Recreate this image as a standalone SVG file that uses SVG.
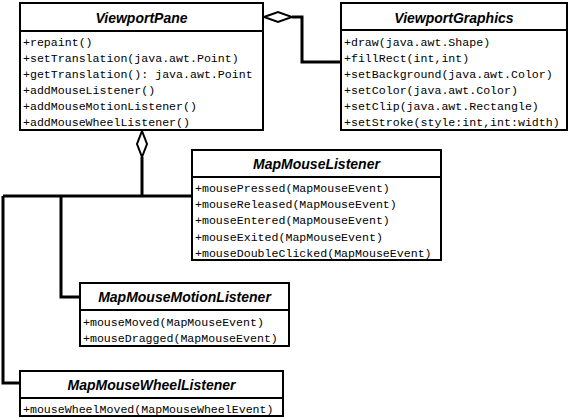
<svg xmlns="http://www.w3.org/2000/svg" width="571" height="418" viewBox="0 0 571 418">
<style>
.box{fill:#fff;stroke:#000;stroke-width:2}
.div{stroke:#000;stroke-width:2}
.hd{font-family:"Liberation Sans",Arial,sans-serif;font-weight:bold;font-style:italic;font-size:14px;text-anchor:middle;fill:#000}
.m{font-family:"Liberation Mono","Courier New",monospace;font-size:11.6px;fill:#000}
.ln{fill:none;stroke:#000;stroke-width:3}
.dia{fill:#fff;stroke:#000;stroke-width:2}
</style>
<rect width="571" height="418" fill="#fff"/>
<g id="connectors">
<polyline class="ln" points="292,17 302,17 302,62 341,62"/>
<polygon class="dia" points="264,17 278,12 292,17 278,22"/>
<polyline class="ln" points="142,157 142,196"/>
<polyline class="ln" points="3,196 192,196"/>
<polyline class="ln" points="3,196 3,383 20,383"/>
<polyline class="ln" points="61,196 61,297 80,297"/>
<polygon class="dia" points="142,131 147,144 142,157 137,144"/>
</g>
<g id="ViewportPane">
<rect class="box" x="20" y="3" width="243" height="127"/>
<line class="div" x1="20" y1="31" x2="263" y2="31"/>
<text class="hd" x="141.5" y="23">ViewportPane</text>
<text class="m" x="23" y="46">+repaint()</text>
<text class="m" x="23" y="62">+setTranslation(java.awt.Point)</text>
<text class="m" x="23" y="78">+getTranslation(): java.awt.Point</text>
<text class="m" x="23" y="94">+addMouseListener()</text>
<text class="m" x="23" y="110">+addMouseMotionListener()</text>
<text class="m" x="23" y="126">+addMouseWheelListener()</text>
</g>
<g id="ViewportGraphics">
<rect class="box" x="341" y="3" width="226" height="127"/>
<line class="div" x1="341" y1="30" x2="567" y2="30"/>
<text class="hd" x="454" y="23">ViewportGraphics</text>
<text class="m" x="344" y="46">+draw(java.awt.Shape)</text>
<text class="m" x="344" y="62">+fillRect(int,int)</text>
<text class="m" x="344" y="78">+setBackground(java.awt.Color)</text>
<text class="m" x="344" y="94">+setColor(java.awt.Color)</text>
<text class="m" x="344" y="110">+setClip(java.awt.Rectangle)</text>
<text class="m" x="344" y="126">+setStroke(style:int,int:width)</text>
</g>
<g id="MapMouseListener">
<rect class="box" x="192" y="150" width="249" height="110"/>
<line class="div" x1="192" y1="177" x2="441" y2="177"/>
<text class="hd" x="316.5" y="169">MapMouseListener</text>
<text class="m" x="195" y="192">+mousePressed(MapMouseEvent)</text>
<text class="m" x="195" y="208">+mouseReleased(MapMouseEvent)</text>
<text class="m" x="195" y="224">+mouseEntered(MapMouseEvent)</text>
<text class="m" x="195" y="241">+mouseExited(MapMouseEvent)</text>
<text class="m" x="195" y="257">+mouseDoubleClicked(MapMouseEvent)</text>
</g>
<g id="MapMouseMotionListener">
<rect class="box" x="80" y="283" width="209" height="63"/>
<line class="div" x1="80" y1="310" x2="289" y2="310"/>
<text class="hd" x="184.5" y="302">MapMouseMotionListener</text>
<text class="m" x="83" y="326">+mouseMoved(MapMouseEvent)</text>
<text class="m" x="83" y="342">+mouseDragged(MapMouseEvent)</text>
</g>
<g id="MapMouseWheelListener">
<rect class="box" x="20" y="371" width="263" height="45"/>
<line class="div" x1="20" y1="398" x2="283" y2="398"/>
<text class="hd" x="151.5" y="390">MapMouseWheelListener</text>
<text class="m" x="23" y="413">+mouseWheelMoved(MapMouseWheelEvent)</text>
</g>
</svg>
